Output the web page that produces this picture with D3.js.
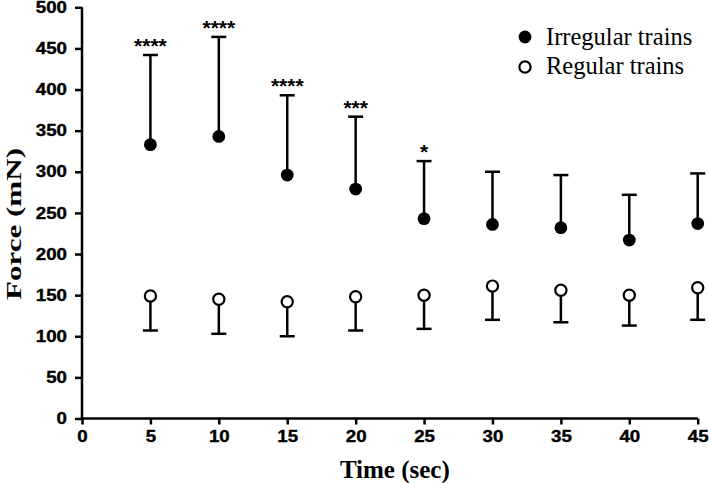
<!DOCTYPE html>
<html>
<head>
<meta charset="utf-8">
<script src="https://cdn.jsdelivr.net/npm/d3@7"></script>
<style>
  html, body { margin: 0; padding: 0; background: #fff; }
  svg { display: block; }
</style>
</head>
<body>
<svg id="chart" width="709" height="483"></svg>
<script>
// ---- data ----
const times = [5, 10, 15, 20, 25, 30, 35, 40, 45];
const irregularMean = [333, 343, 296, 279, 243, 236, 232, 217, 237];
const irregularUpper = [442, 464, 393, 367, 313, 300, 296, 272, 298];
const regularMean = [149, 145, 142, 148, 150, 161, 156, 150, 159];
const regularLower = [107, 103, 100, 107, 109, 120, 117, 113, 120];
const significance = ["****", "****", "****", "***", "*", "", "", "", ""];
const xTicks = [0, 5, 10, 15, 20, 25, 30, 35, 40, 45];
const yTicks = [0, 50, 100, 150, 200, 250, 300, 350, 400, 450, 500];
const seriesNames = ["Irregular trains", "Regular trains"];
const xTitle = "Time (sec)";
const yTitle = "Force (mN)";

// ---- layout ----
const svg = d3.select("#chart");
const x = d3.scaleLinear().domain([0, 45]).range([82, 697.7]);
const y = d3.scaleLinear().domain([0, 500]).range([418.5, 7.3]);
const ink = "#000";
const sw = 2.5;
const capHalf = 7.5;

// axes
const xAxis = d3.axisBottom(x).tickValues(xTicks).tickSize(6).tickPadding(6).tickSizeOuter(0);
const yAxis = d3.axisLeft(y).tickValues(yTicks).tickSize(7).tickPadding(8).tickSizeOuter(0);

const gx = svg.append("g").attr("transform", `translate(0,${y(0)})`).call(xAxis);
const gy = svg.append("g").attr("transform", `translate(${x(0)},0)`).call(yAxis);

[gx, gy].forEach(g => {
  g.select(".domain").attr("stroke", ink).attr("stroke-width", sw);
  g.selectAll(".tick line").attr("stroke", ink).attr("stroke-width", sw);
  g.selectAll(".tick text")
    .attr("fill", ink)
    .attr("stroke", ink)
    .attr("stroke-width", 0.35)
    .attr("textLength", function() { return this.textContent.length * 10.4; })
    .attr("lengthAdjust", "spacingAndGlyphs")
    .style("font-family", "'Liberation Sans', Arial, sans-serif")
    .style("font-weight", "bold")
    .style("font-size", "16px");
});
// extend domain lines so corners join
gx.select(".domain").attr("d", `M${x(0) - sw/2},0H${x(45)}`);
gy.select(".domain").attr("d", `M0,${y(0) + sw/2}V${y(500)}`);

// axis titles
svg.append("text")
  .attr("x", (x(0) + x(45)) / 2 + 5)
  .attr("y", 477.5)
  .attr("text-anchor", "middle")
  .style("font-family", "'Liberation Serif', 'Times New Roman', serif")
  .style("font-weight", "bold")
  .style("font-size", "25px")
  .text(xTitle);

svg.append("text")
  .attr("transform", `translate(21,${224}) rotate(-90)`)
  .attr("text-anchor", "middle")
  .attr("textLength", 152)
  .attr("lengthAdjust", "spacingAndGlyphs")
  .style("font-family", "'Liberation Serif', 'Times New Roman', serif")
  .style("font-weight", "bold")
  .style("font-size", "21px")
  .text(yTitle);

// error bars
const irr = times.map((t, i) => ({ t, m: irregularMean[i], e: irregularUpper[i], s: significance[i] }));
const reg = times.map((t, i) => ({ t, m: regularMean[i], e: regularLower[i] }));

function errorBars(data) {
  const g = svg.append("g").attr("stroke", ink).attr("stroke-width", sw);
  g.selectAll("line.v").data(data).join("line")
    .attr("x1", d => x(d.t)).attr("x2", d => x(d.t))
    .attr("y1", d => y(d.m)).attr("y2", d => y(d.e));
  g.selectAll("line.c").data(data).join("line")
    .attr("x1", d => x(d.t) - capHalf).attr("x2", d => x(d.t) + capHalf)
    .attr("y1", d => y(d.e)).attr("y2", d => y(d.e));
}
errorBars(irr);
errorBars(reg);

// markers
svg.append("g").selectAll("circle").data(irr).join("circle")
  .attr("cx", d => x(d.t)).attr("cy", d => y(d.m)).attr("r", 6.4)
  .attr("fill", ink);
svg.append("g").selectAll("circle").data(reg).join("circle")
  .attr("cx", d => x(d.t)).attr("cy", d => y(d.m)).attr("r", 5.6)
  .attr("fill", "#fff").attr("stroke", ink).attr("stroke-width", 2.2);

// significance stars
svg.append("g").selectAll("text").data(irr.filter(d => d.s)).join("text")
  .attr("x", d => x(d.t))
  .attr("y", d => y(d.e) - 2)
  .attr("text-anchor", "middle")
  .style("font-family", "'Liberation Sans', Arial, sans-serif")
  .style("font-weight", "bold")
  .style("font-size", "21px")
  .text(d => d.s);

// legend
const legend = svg.append("g");
const legendRows = [
  { name: seriesNames[0], filled: true, cy: 37, ty: 45 },
  { name: seriesNames[1], filled: false, cy: 67, ty: 74 }
];
legendRows.forEach(r => {
  legend.append("circle")
    .attr("cx", 525).attr("cy", r.cy)
    .attr("r", r.filled ? 6.4 : 5.6)
    .attr("fill", r.filled ? ink : "#fff")
    .attr("stroke", r.filled ? "none" : ink)
    .attr("stroke-width", 2.2);
  legend.append("text")
    .attr("x", 546).attr("y", r.ty)
    .style("font-family", "'Liberation Serif', 'Times New Roman', serif")
    .style("font-size", "24.5px")
    .text(r.name);
});
</script>
</body>
</html>
